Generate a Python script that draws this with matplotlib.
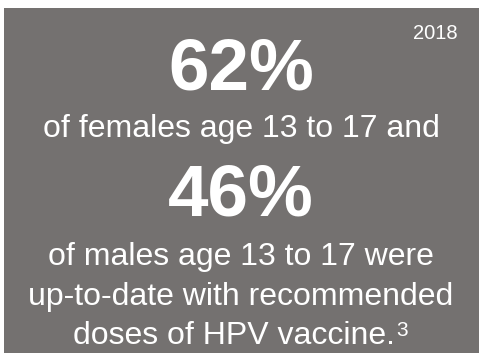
import matplotlib
matplotlib.use("Agg")
import matplotlib.pyplot as plt
from matplotlib.patches import Rectangle

year = "2018"
stats = ["62%", "46%"]
lines_female = ["of females age 13 to 17 and"]
lines_male = ["of males age 13 to 17 were", "up-to-date with recommended", "doses of HPV vaccine."]
footnote = "3"

W, H = 479, 353
fig = plt.figure(figsize=(W / 100, H / 100), dpi=100)
ax = fig.add_axes([0, 0, 1, 1])
ax.set_xlim(0, W)
ax.set_ylim(H, 0)
ax.axis("off")

bg = "#747170"
ax.add_patch(Rectangle((4, 8), W - 4, H - 8, color=bg, lw=0))

fam = "Liberation Sans"
cx = 241
ax.text(435, 39, year, color="white", fontsize=14.5, family=fam, ha="center", va="baseline")
ax.text(cx, 89, stats[0], color="white", fontsize=52.5, family=fam, weight="bold", ha="center", va="baseline")
ax.text(cx, 137, lines_female[0], color="white", fontsize=23, family=fam, ha="center", va="baseline")
ax.text(cx, 216, stats[1], color="white", fontsize=52.5, family=fam, weight="bold", ha="center", va="baseline")
ys = [265, 305, 344]
last = None
for y, t in zip(ys, lines_male):
    x = cx - 7 if t == lines_male[-1] else cx
    last = ax.text(x, y, t, color="white", fontsize=23, family=fam, ha="center", va="baseline")

fig.canvas.draw()
bb = last.get_window_extent()
x_end_data = ax.transData.inverted().transform((bb.x1, 0))[0]
ax.text(x_end_data + 1, ys[-1] - 8, footnote, color="white", fontsize=15, family=fam, ha="left", va="baseline")

fig.savefig("out.png", dpi=100, facecolor="white")
